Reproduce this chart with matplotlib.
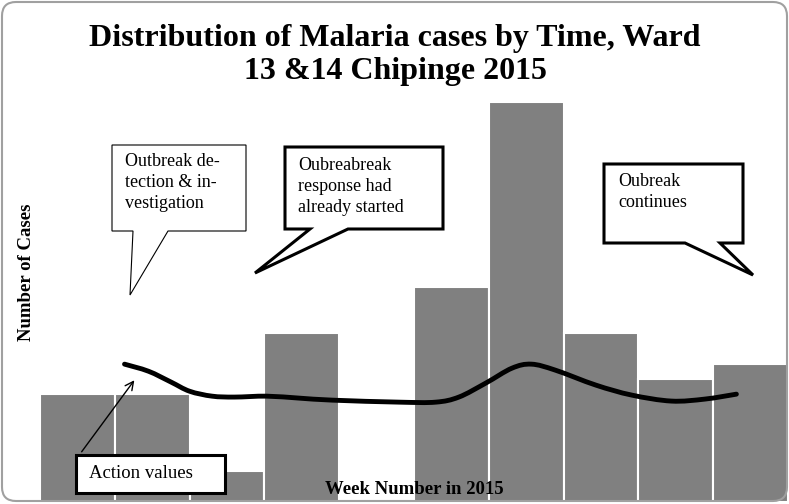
import matplotlib.pyplot as plt
from matplotlib.patches import Polygon, FancyBboxPatch, PathPatch
from matplotlib.path import Path

# weekly malaria cases (weeks 1-10 of the shown period)
weeks = [0, 1, 2, 3, 4, 5, 6, 7, 8, 9]
cases = [7, 7, 2, 11, 0, 14, 26, 11, 8, 9]

# action threshold curve (week position, cases)
action_x = [1.13, 1.45, 1.75, 2.00, 2.30, 2.60, 3.03, 3.47, 3.91, 4.80, 5.29,
            5.60, 5.96, 6.31, 6.57, 6.89, 7.43, 7.91, 8.44, 8.89, 9.31]
action_y = [8.96, 8.50, 7.80, 7.20, 6.88, 6.82, 6.88, 6.75, 6.62, 6.49, 6.49,
            6.82, 7.73, 8.70, 8.96, 8.57, 7.60, 6.95, 6.56, 6.69, 7.01]

title = "Distribution of Malaria cases by Time, Ward\n13 &14 Chipinge 2015"
serif = "Liberation Serif"

fig = plt.figure(figsize=(7.89, 5.04), dpi=100)

# chart area
ax = fig.add_axes([40 / 789, 2 / 504, 748 / 789, 400 / 504])
ax.bar(weeks, cases, width=1, align="edge", color="#808080",
       edgecolor="white", linewidth=1.5, zorder=2)

# smooth line through the read points (catmull-rom -> bezier)
pts = list(zip(action_x, action_y))
verts = [pts[0]]
codes = [Path.MOVETO]
for i in range(len(pts) - 1):
    p0 = pts[i - 1] if i > 0 else pts[i]
    p1, p2 = pts[i], pts[i + 1]
    p3 = pts[i + 2] if i + 2 < len(pts) else pts[i + 1]
    c1 = (p1[0] + (p2[0] - p0[0]) / 6, p1[1] + (p2[1] - p0[1]) / 6)
    c2 = (p2[0] - (p3[0] - p1[0]) / 6, p2[1] - (p3[1] - p1[1]) / 6)
    verts += [c1, c2, p2]
    codes += [Path.CURVE4] * 3
ax.add_patch(PathPatch(Path(verts, codes), fill=False, edgecolor="black",
                       linewidth=3.5, capstyle="round", zorder=3))
ax.set_xlim(0, 10)
ax.set_ylim(0, 26)
ax.axis("off")

# overlay in pixel coordinates for the frame, text and callouts
ov = fig.add_axes([0, 0, 1, 1], zorder=5)
ov.set_xlim(0, 789)
ov.set_ylim(504, 0)
ov.axis("off")

frame = FancyBboxPatch((2, 2), 785, 499, boxstyle="round,pad=0,rounding_size=14",
                       fill=False, edgecolor="#a0a0a0", linewidth=1.5)
ov.add_patch(frame)

ov.text(395, 55, title, ha="center", va="center", fontsize=23,
        fontweight="bold", family=serif, linespacing=1.15)

ov.text(27, 272, "Number of Cases", rotation=90, ha="center", va="center",
        fontsize=13.5, fontweight="bold", family=serif)
ov.text(414, 490, "Week Number in 2015", ha="center", va="center",
        fontsize=13.5, fontweight="bold", family=serif)


def callout(L, T, R, B, t1, t2, tip, lw):
    pts = [(L, T), (R, T), (R, B), (t2, B), tip, (t1, B), (L, B)]
    ov.add_patch(Polygon(pts, closed=True, facecolor="white",
                         edgecolor="black", linewidth=lw, joinstyle="miter"))


callout(112, 145, 246, 231, 133, 168, (130, 295), 0.8)
ov.text(125, 153, "Outbreak de-\ntection & in-\nvestigation", ha="left", va="top",
        fontsize=13, family=serif, linespacing=1.3)

callout(285, 147, 443, 229, 310, 348, (255, 273), 2.2)
ov.text(298, 157, "Oubreabreak\nresponse had\nalready started", ha="left", va="top",
        fontsize=13, family=serif, linespacing=1.3)

callout(604, 164, 743, 243, 685, 720, (753, 275), 2.2)
ov.text(618, 173, "Oubreak\ncontinues", ha="left", va="top",
        fontsize=13, family=serif, linespacing=1.3)

# action values label with arrow
ov.add_patch(Polygon([(76, 455), (225, 455), (225, 493), (76, 493)], closed=True,
                     facecolor="white", edgecolor="black", linewidth=2.2,
                     joinstyle="miter"))
ov.text(89, 474, "Action values", ha="left", va="center", fontsize=13.5, family=serif)
ov.annotate("", xy=(136, 378), xytext=(80, 454),
            arrowprops=dict(arrowstyle="->", color="black", lw=1, mutation_scale=15))

fig.savefig("out.png", dpi=100)
plt.close(fig)
